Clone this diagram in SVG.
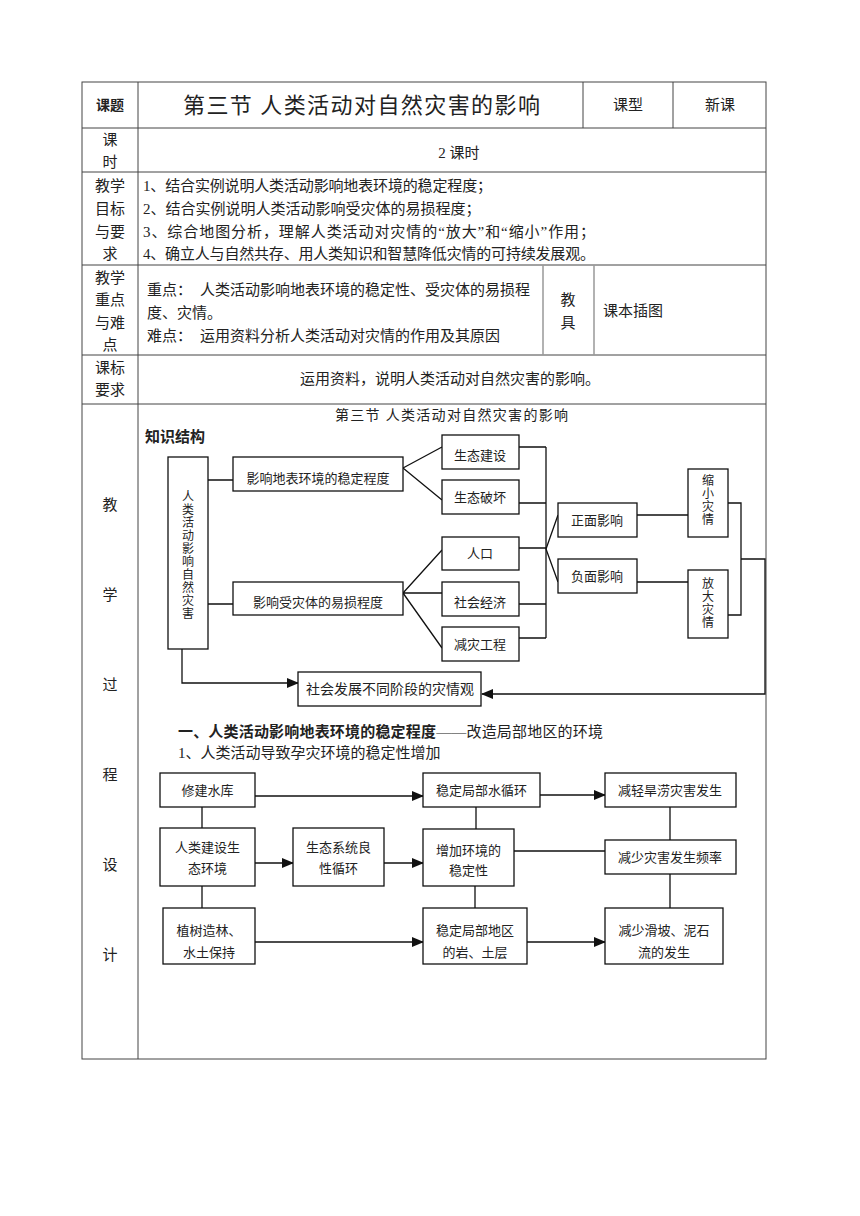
<svg xmlns="http://www.w3.org/2000/svg" width="860" height="1216" viewBox="0 0 860 1216">
<defs>
<style>
text{font-family:"Liberation Serif","Noto Sans CJK SC",serif;fill:#222;}
.t{font-size:15px;}
.b{font-size:13px;text-anchor:middle;}
.v{font-size:12px;text-anchor:middle;}
.c{text-anchor:middle;}
.bold{font-weight:bold;}
.tl{stroke:#444;stroke-width:1;fill:none;}
.tl2{stroke:#999;stroke-width:1.5;fill:none;}
.box{fill:#fff;stroke:#111;stroke-width:1.3;}
.ln{stroke:#111;stroke-width:1.3;fill:none;}
</style>
<marker id="ah" markerUnits="userSpaceOnUse" markerWidth="12" markerHeight="10" refX="11" refY="5" orient="auto">
<path d="M0,0 L12,5 L0,10 Z" fill="#111"/>
</marker>
</defs>
<rect width="860" height="1216" fill="#fff"/>

<g id="table">
<rect x="82" y="82" width="684" height="977" class="tl"/>
<path class="tl" d="M82,128H766M82,172H766M82,265H766M82,355H766M82,404H766M138,82V1059M583,82V128M673,82V128"/>
<path class="tl2" d="M543,265V355M594,265V355"/>
</g>

<g id="table-text">
<text x="110" y="110" class="c bold" font-size="14">课题</text>
<text x="183" y="113" font-size="22" textLength="357" lengthAdjust="spacing">第三节 人类活动对自然灾害的影响</text>
<text x="628" y="110" class="t c">课型</text>
<text x="720" y="110" class="t c">新课</text>
<text x="110" y="145" class="t c">课</text>
<text x="110" y="167" class="t c">时</text>
<text x="459" y="158" class="t c">2 课时</text>
<text x="110" y="191" class="t c">教学</text>
<text x="110" y="214" class="t c">目标</text>
<text x="110" y="237" class="t c">与要</text>
<text x="110" y="259" class="t c">求</text>
<text x="143" y="191" class="t" textLength="349" lengthAdjust="spacing">1、结合实例说明人类活动影响地表环境的稳定程度；</text>
<text x="143" y="214" class="t">2、结合实例说明人类活动影响受灾体的易损程度；</text>
<text x="143" y="237" class="t" textLength="452" lengthAdjust="spacing">3、综合地图分析，理解人类活动对灾情的“放大”和“缩小”作用；</text>
<text x="143" y="259" class="t" textLength="452" lengthAdjust="spacing">4、确立人与自然共存、用人类知识和智慧降低灾情的可持续发展观。</text>
<text x="110" y="283" class="t c">教学</text>
<text x="110" y="305" class="t c">重点</text>
<text x="110" y="328" class="t c">与难</text>
<text x="110" y="350" class="t c">点</text>
<text x="147" y="295" class="t">重点：<tspan x="200">人类活动影响地表环境的稳定性、受灾体的易损程</tspan></text>
<text x="147" y="318" class="t">度、灾情。</text>
<text x="147" y="341" class="t">难点：<tspan x="200">运用资料分析人类活动对灾情的作用及其原因</tspan></text>
<text x="568" y="305" class="t c">教</text>
<text x="568" y="328" class="t c">具</text>
<text x="603" y="316" class="t">课本插图</text>
<text x="110" y="373" class="t c">课标</text>
<text x="110" y="395" class="t c">要求</text>
<text x="450" y="384" class="t c">运用资料，说明人类活动对自然灾害的影响。</text>
<text x="110" y="510" class="t c">教</text>
<text x="110" y="600" class="t c">学</text>
<text x="110" y="690" class="t c">过</text>
<text x="110" y="780" class="t c">程</text>
<text x="110" y="870" class="t c">设</text>
<text x="110" y="960" class="t c">计</text>
<text x="335" y="420" font-size="14" textLength="233" lengthAdjust="spacing">第三节 人类活动对自然灾害的影响</text>
<text x="145" y="442" font-size="15" class="bold">知识结构</text>
</g>

<g id="connectors">
<path class="ln" d="M208,480H233M208,604H233"/>
<path class="ln" d="M403,468L442,447M403,468L442,500"/>
<path class="ln" d="M403,593L442,550M403,593H442M403,593L442,648"/>
<path class="ln" d="M519,447H546M519,503H546M519,548H546M519,604H546M519,638H546M546,447V638"/>
<path class="ln" d="M546,549L558,515M546,549L558,582"/>
<path class="ln" d="M637,515H688M637,582H688"/>
<path class="ln" d="M728,503H741V615H728M741,559H765V694H482" marker-end="url(#ah)"/>
<path class="ln" d="M182,649V683H298" marker-end="url(#ah)"/>
<path class="ln" d="M255,796H423" marker-end="url(#ah)"/>
<path class="ln" d="M540,795H605" marker-end="url(#ah)"/>
<path class="ln" d="M255,863H293" marker-end="url(#ah)"/>
<path class="ln" d="M384,863H423" marker-end="url(#ah)"/>
<path class="ln" d="M255,942H423" marker-end="url(#ah)"/>
<path class="ln" d="M527,942H605" marker-end="url(#ah)"/>
<path class="ln" d="M202,807V828M476,807V829M670,807V840M514,851H605M202,886V908M475,886V908M670,874V908"/>
</g>

<g id="n-main">
<rect class="box" x="168" y="457" width="40" height="192"/>
<text class="v" x="188"><tspan x="188" y="501">人</tspan><tspan x="188" y="514">类</tspan><tspan x="188" y="527">活</tspan><tspan x="188" y="540">动</tspan><tspan x="188" y="553">影</tspan><tspan x="188" y="566">响</tspan><tspan x="188" y="579">自</tspan><tspan x="188" y="592">然</tspan><tspan x="188" y="605">灾</tspan><tspan x="188" y="618">害</tspan></text>
</g>
<g id="n-stab"><rect class="box" x="233" y="457" width="170" height="34"/><text class="b" x="318" y="483">影响地表环境的稳定程度</text></g>
<g id="n-vuln"><rect class="box" x="233" y="582" width="170" height="33"/><text class="b" x="318" y="607">影响受灾体的易损程度</text></g>
<g id="n-eco1"><rect class="box" x="442" y="435" width="77" height="34"/><text class="b" x="480" y="460">生态建设</text></g>
<g id="n-eco2"><rect class="box" x="442" y="480" width="77" height="34"/><text class="b" x="480" y="502">生态破坏</text></g>
<g id="n-pop"><rect class="box" x="442" y="537" width="77" height="33"/><text class="b" x="480" y="558">人口</text></g>
<g id="n-soc"><rect class="box" x="442" y="582" width="77" height="34"/><text class="b" x="480" y="607">社会经济</text></g>
<g id="n-eng"><rect class="box" x="442" y="627" width="77" height="34"/><text class="b" x="480" y="649">减灾工程</text></g>
<g id="n-pos"><rect class="box" x="558" y="503" width="79" height="34"/><text class="b" x="597" y="525">正面影响</text></g>
<g id="n-neg"><rect class="box" x="558" y="559" width="79" height="34"/><text class="b" x="597" y="581">负面影响</text></g>
<g id="n-small"><rect class="box" x="688" y="469" width="40" height="68"/><text class="v"><tspan x="708" y="485">缩</tspan><tspan x="708" y="498">小</tspan><tspan x="708" y="511">灾</tspan><tspan x="708" y="524">情</tspan></text></g>
<g id="n-big"><rect class="box" x="688" y="570" width="40" height="68"/><text class="v"><tspan x="708" y="588">放</tspan><tspan x="708" y="601">大</tspan><tspan x="708" y="614">灾</tspan><tspan x="708" y="627">情</tspan></text></g>
<g id="n-view"><rect class="box" x="298" y="672" width="183" height="34"/><text class="c" font-size="14" x="390" y="694">社会发展不同阶段的灾情观</text></g>

<g id="section1-text">
<text x="178" y="737" font-size="15" textLength="425" lengthAdjust="spacing"><tspan class="bold">一、人类活动影响地表环境的稳定程度</tspan>——改造局部地区的环境</text>
<text x="178" y="758" font-size="15">1、人类活动导致孕灾环境的稳定性增加</text>
</g>

<g id="f-res"><rect class="box" x="160" y="773" width="95" height="34"/><text class="b" x="207.5" y="795">修建水库</text></g>
<g id="f-water"><rect class="box" x="423" y="773" width="117" height="34"/><text class="b" x="481.5" y="795">稳定局部水循环</text></g>
<g id="f-drought"><rect class="box" x="605" y="773" width="131" height="34"/><text class="b" x="670" y="795">减轻旱涝灾害发生</text></g>
<g id="f-build"><rect class="box" x="160" y="828" width="95" height="58"/><text class="b" x="207.5" y="852">人类建设生</text><text class="b" x="207.5" y="873">态环境</text></g>
<g id="f-cycle"><rect class="box" x="293" y="828" width="91" height="58"/><text class="b" x="338.5" y="852">生态系统良</text><text class="b" x="338.5" y="873">性循环</text></g>
<g id="f-incr"><rect class="box" x="423" y="829" width="91" height="57"/><text class="b" x="468.5" y="855">增加环境的</text><text class="b" x="468.5" y="875">稳定性</text></g>
<g id="f-freq"><rect class="box" x="605" y="840" width="131" height="34"/><text class="b" x="670" y="862">减少灾害发生频率</text></g>
<g id="f-tree"><rect class="box" x="163" y="908" width="92" height="56"/><text class="b" x="209" y="935">植树造林、</text><text class="b" x="209" y="957">水土保持</text></g>
<g id="f-soil"><rect class="box" x="423" y="908" width="104" height="56"/><text class="b" x="475" y="935">稳定局部地区</text><text class="b" x="475" y="957">的岩、土层</text></g>
<g id="f-slide"><rect class="box" x="605" y="908" width="118" height="56"/><text class="b" x="664" y="935">减少滑坡、泥石</text><text class="b" x="664" y="957">流的发生</text></g>
</svg>
